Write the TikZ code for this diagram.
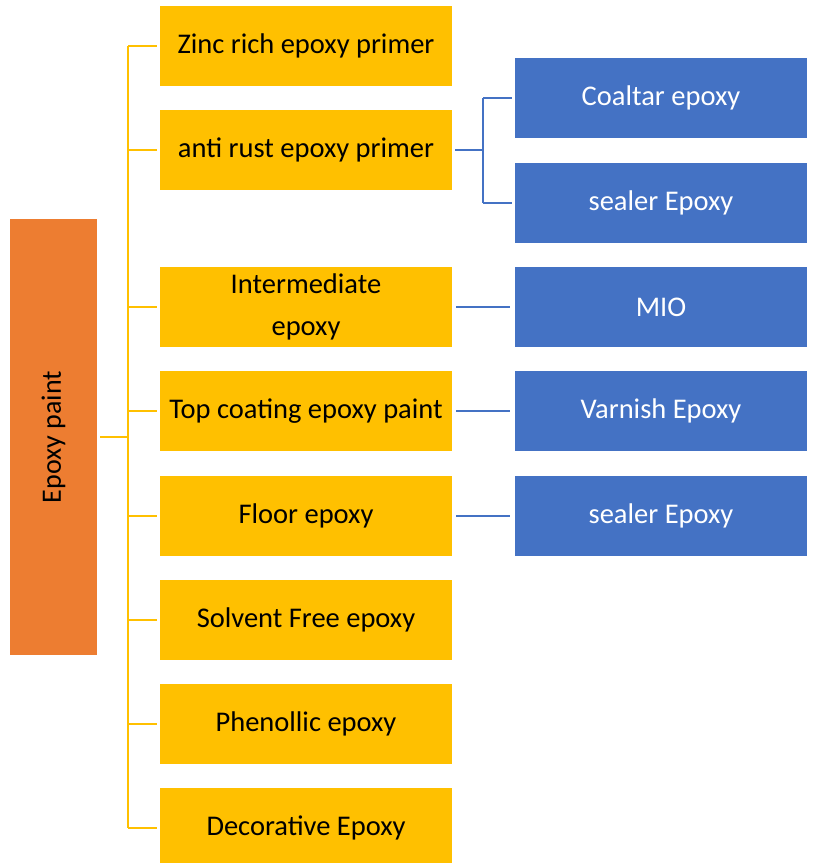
\documentclass[tikz,border=0pt]{standalone}
\usepackage{fontspec}
\setmainfont{Carlito}
\usetikzlibrary{positioning}
\definecolor{epyellow}{HTML}{FFC000}
\definecolor{epblue}{HTML}{4472C4}
\definecolor{eporange}{HTML}{ED7D31}
\tikzset{
  kind/.style={fill=epyellow, text=black, minimum width=292pt, minimum height=80pt,
               inner sep=0pt, align=center, font=\fontsize{28.5}{42}\selectfont},
  sub/.style={fill=epblue, text=white, minimum width=292pt, minimum height=80pt,
              inner sep=0pt, font=\fontsize{28.5}{34}\selectfont},
  ylink/.style={draw=epyellow, line width=2pt},
  blink/.style={draw=epblue, line width=1.6pt}
}
\newcommand{\kindbox}[3]{\node[kind] (#1) at (306,#2) {#3};}
\newcommand{\subbox}[3]{\node[sub] (#1) at (661,#2) {#3};}

\begin{document}
\begin{tikzpicture}[x=1pt, y=-1pt]
    \useasboundingbox (0,0) rectangle (817,863);
    \node[fill=eporange, minimum width=87pt, minimum height=436pt, inner sep=0pt] (root) at (53.5,437) {};
    \node[rotate=90, font=\fontsize{28}{34}\selectfont] (rootlabel) at (root.center) {Epoxy paint};
    \kindbox{zinc}{46}{Zinc rich epoxy primer}
    \kindbox{rust}{150}{anti rust epoxy primer}
    \kindbox{inter}{307}{Intermediate\\epoxy}
    \kindbox{top}{411}{Top coating epoxy paint}
    \kindbox{floor}{516}{Floor epoxy}
    \kindbox{solv}{620}{Solvent Free epoxy}
    \kindbox{phen}{724}{Phenollic epoxy}
    \kindbox{deco}{828}{Decorative Epoxy}
    \subbox{coal}{98}{Coaltar epoxy}
    \subbox{seal}{203}{sealer Epoxy}
    \subbox{mio}{307}{MIO}
    \subbox{varn}{411}{Varnish Epoxy}
    \subbox{sealb}{516}{sealer Epoxy}
    % yellow tree
    \draw[ylink, shorten <=3pt] (root.east) -- ++(31,0) coordinate (trunk);
    \draw[ylink] (trunk |- zinc.west) -- (trunk |- deco.west);
    \foreach \k in {zinc,rust,inter,top,floor,solv,phen,deco}
        \draw[ylink, shorten >=3pt] (trunk |- \k.west) -- (\k.west);
    % blue links
    \draw[blink, shorten <=3pt] (rust.east) -- ++(31,0) coordinate (fork);
    \draw[blink] (fork |- coal.west) -- (fork |- seal.west);
    \draw[blink, shorten >=3pt] (fork |- coal.west) -- (coal.west);
    \draw[blink, shorten >=3pt] (fork |- seal.west) -- (seal.west);
    \draw[blink, shorten <=4pt, shorten >=5pt] (inter.east) -- (mio.west);
    \draw[blink, shorten <=4pt, shorten >=5pt] (top.east) -- (varn.west);
    \draw[blink, shorten <=4pt, shorten >=5pt] (floor.east) -- (sealb.west);
\end{tikzpicture}
\end{document}
